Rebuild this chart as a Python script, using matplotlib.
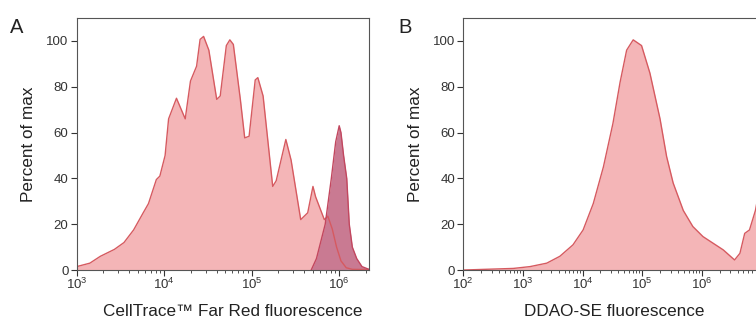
import numpy as np
import matplotlib.pyplot as plt
from matplotlib.ticker import LogLocator, NullFormatter, FuncFormatter

plt.rcParams['font.family'] = ['Liberation Sans', 'DejaVu Sans']
plt.rcParams['mathtext.fontset'] = 'custom'
plt.rcParams['mathtext.rm'] = 'Liberation Sans'

# panel A, main (light) histogram: log10(fluorescence), percent of max
a_main_log = [3.00, 3.15, 3.27, 3.43, 3.54, 3.65, 3.76, 3.82, 3.91, 3.95, 4.01, 4.05,
              4.14, 4.24, 4.30, 4.37, 4.41, 4.45, 4.51, 4.60, 4.64, 4.71, 4.75, 4.79,
              4.87, 4.92, 4.97, 5.04, 5.07, 5.13, 5.24, 5.28, 5.39, 5.45, 5.56, 5.64,
              5.70, 5.73, 5.83, 5.87, 5.92, 5.97, 6.02, 6.08, 6.15, 6.34]
a_main_pct = [1.5, 3, 6, 9, 12, 17.5, 25, 29, 39.5, 41, 50, 66,
              75, 66, 82.5, 89, 100.7, 102, 96, 74.5, 76, 98, 100.5, 98.5,
              74.5, 57.7, 58.4, 83, 84, 76, 36.5, 39, 57, 48, 22, 25,
              36.5, 32, 22, 23.5, 18, 10, 4, 1, 0.3, 0.2]

# panel A, undivided (dark) peak
a_peak_log = [5.68, 5.74, 5.84, 5.91, 5.96, 6.00, 6.02, 6.05, 6.086, 6.115, 6.15, 6.20, 6.26, 6.34]
a_peak_pct = [0, 5, 20, 40, 56, 63, 60, 50, 40, 20, 10, 5, 1.5, 0.3]

# panel B histogram
b_log = [2.00, 2.84, 3.12, 3.40, 3.62, 3.84, 4.01, 4.18, 4.35, 4.51, 4.63, 4.74,
         4.85, 4.99, 5.13, 5.30, 5.41, 5.52, 5.69, 5.85, 6.02, 6.19, 6.36, 6.55,
         6.64, 6.72, 6.80, 6.90, 7.00, 7.10, 7.30]
b_pct = [0, 0.7, 1.5, 3, 6, 11, 17.5, 29, 45, 64, 82, 96,
         100.5, 98, 86, 66, 49.6, 38, 26, 19, 14.6, 11.7, 8.8, 4.4,
         7.3, 16, 17.5, 26, 40, 50, 30]

light_fill = '#f4b5b7'
light_edge = '#d65a60'
dark_fill = '#c97a92'
dark_edge = '#c2475f'
spine_c = '#555555'

fig = plt.figure(figsize=(7.56, 3.23), dpi=100)
axA = fig.add_axes([0.1015, 0.164, 0.387, 0.780])
axB = fig.add_axes([0.6128, 0.164, 0.418, 0.780])


def dec_label(v, pos, vmax):
    if v > vmax:
        return ''
    return r'$10^{%d}$' % round(np.log10(v))


def style(ax, xmin, xmax, label_max):
    ax.set_xscale('log')
    ax.set_xlim(xmin, xmax)
    ax.set_ylim(0, 110)
    ax.set_yticks([0, 20, 40, 60, 80, 100])
    ax.xaxis.set_major_locator(LogLocator(base=10, numticks=20))
    ax.xaxis.set_major_formatter(FuncFormatter(lambda v, p: dec_label(v, p, label_max)))
    ax.xaxis.set_minor_locator(LogLocator(base=10, subs=np.arange(2, 10), numticks=20))
    ax.xaxis.set_minor_formatter(NullFormatter())
    ax.tick_params(axis='both', which='major', direction='out', length=4, width=0.8,
                   color='#333333', labelsize=9.5, labelcolor='#333333', pad=2)
    ax.tick_params(axis='x', which='major', pad=1)
    ax.tick_params(axis='x', which='minor', direction='out', length=2, width=0.6, color='#333333')
    for s in ax.spines.values():
        s.set_color(spine_c)
        s.set_linewidth(0.8)
    ax.set_ylabel('Percent of max', fontsize=12.3, color='#222222', labelpad=7)


xa = 10 ** np.array(a_main_log)
axA.fill_between(xa, a_main_pct, color=light_fill, lw=0)
axA.plot(xa, a_main_pct, color=light_edge, lw=1.0)
xp = 10 ** np.array(a_peak_log)
axA.fill_between(xp, a_peak_pct, color=dark_fill, lw=0)
axA.plot(xp, a_peak_pct, color=dark_edge, lw=1.0)
style(axA, 1e3, 10 ** 6.344, 1e6)
axA.set_xlabel('CellTrace\u2122 Far Red fluorescence', fontsize=12.3, color='#222222', labelpad=9)
axA.xaxis.set_label_coords(0.534, -0.135)

xb = 10 ** np.array(b_log)
axB.fill_between(xb, b_pct, color=light_fill, lw=0)
axB.plot(xb, b_pct, color=light_edge, lw=1.0)
style(axB, 1e2, 10 ** 7.3, 1e6)
axB.set_xlabel('DDAO-SE fluorescence', fontsize=12.3, color='#222222', labelpad=9)
axB.xaxis.set_label_coords(0.477, -0.135)

fig.text(0.013, 0.898, 'A', fontsize=14.5, color='#222222')
fig.text(0.527, 0.898, 'B', fontsize=14.5, color='#222222')

fig.savefig('out.png', dpi=100)
